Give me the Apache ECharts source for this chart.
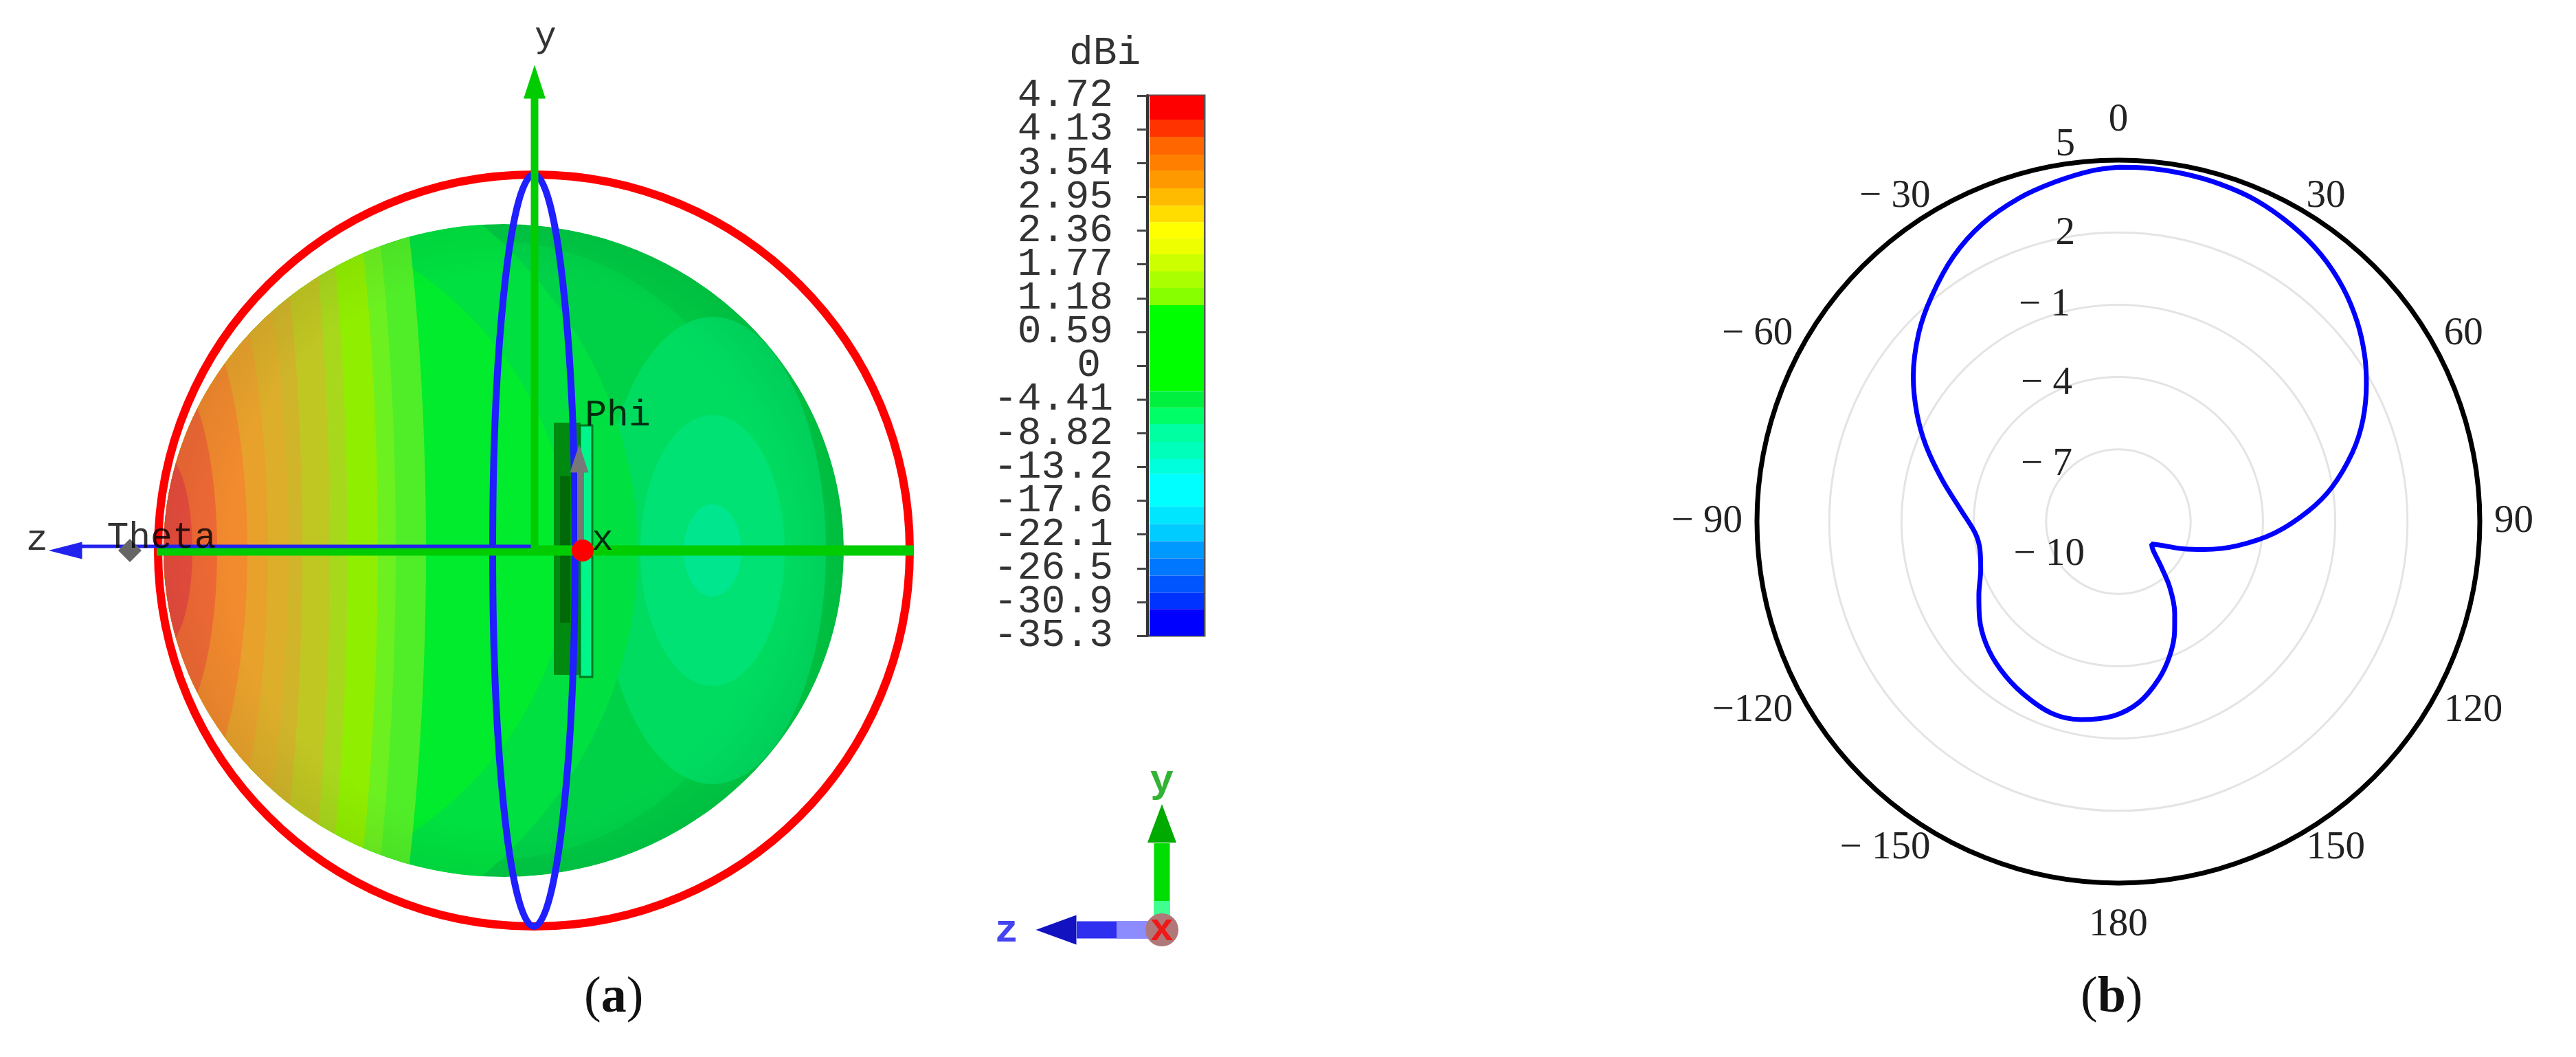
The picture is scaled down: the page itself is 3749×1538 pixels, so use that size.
<!DOCTYPE html>
<html>
<head>
<meta charset="utf-8">
<title>Radiation pattern</title>
<script src="https://cdn.jsdelivr.net/npm/echarts@6/dist/echarts.min.js"></script>
<style>
html, body { margin: 0; padding: 0; background: #fff; }
#main { width: 3749px; height: 1538px; }
</style>
</head>
<body>
<div id="main"></div>
<script>
// (b) polar cut
var thetaDeg = [0, 4.5, 10.5, 16.6, 23.1, 30.4, 37.2, 43.8, 50.1, 55.9, 60.9, 67.5, 73.6, 80.9, 86.8, 94.2, 101.5, 107.9, 112.9, 117.7, 123.9,
    129, 136.2, 142, 148.4, 152.9, 158.9, 165.5, 173.5, 181.4, 190.8, 199.2, 209.2, 218.5, 227.2, 235.6, 242.3, 250.8, 258.6, 265.4,
    274.4, 283.2, 291.5, 298.3, 305.3, 313.4, 320.3, 328.1, 335.5, 342.9, 349.5, 355.6, 360];
var gainDb = [4.71, 4.72, 4.69, 4.63, 4.51, 4.24, 3.91, 3.46, 2.92, 2.34, 1.78, 0.98, 0.12, -1.03, -2.1, -3.5, -4.97, -6.24, -7.11, -7.84, -8.34,
    -8.16, -7.46, -6.53, -5.54, -4.88, -4.06, -3.27, -2.45, -1.94, -1.64, -1.58, -1.84, -2.15, -2.52, -3.01, -3.46, -3.95, -4.14, -4.04,
    -3.43, -2.5, -1.42, -0.5, 0.43, 1.4, 2.14, 2.96, 3.59, 4.04, 4.34, 4.6, 4.71];
var angleLabels = ['0', '30', '60', '90', '120', '150', '180', '\u2212 150', '\u2212120', '\u2212 90', '\u2212 60', '\u2212 30'];

// (a) colour scale
var colorbarLabels = ['4.72', '4.13', '3.54', '2.95', '2.36', '1.77', '1.18', '0.59', '0', '-4.41', '-8.82', '-13.2', '-17.6', '-22.1', '-26.5', '-30.9', '-35.3'];
var colorbarEdges = [0, 0.71, 1.22, 1.75, 2.22, 2.75, 3.26, 3.75, 4.24, 4.7, 5.21, 5.7, 6.21, 8.76, 9.25, 9.73, 10.26, 10.77, 11.21, 12.18, 12.69, 13.2, 13.71, 14.22, 14.73, 15.21, 16];
var colorbarColors = ['#ff0000', '#ff3300', '#ff6600', '#ff8000', '#ff9900', '#ffbb00', '#ffdd00', '#ffff00', '#eeff00', '#ccff00', '#aaff00', '#88ff00',
    '#00ff00', '#00f040', '#00ff66', '#00ffa0', '#00ffbb', '#00ffdd', '#00ffff', '#00e6ff', '#00ccff', '#0099ff', '#0077ff', '#0055ff', '#0033ff', '#0000ff'];

// (a) gain contours on the sphere: [centre, half width, half height]
var sphereOutline = [-42, 0, 495, 475];
var rightContours = [[-42, 0, 495, 475], [-60, 0, 420, 450], [262, 0, 165, 340], [262, 0, 105, 197], [262, 0, 42, 67]];
var rightContourColors = ['#00ca44', '#00d248', '#00dc60', '#00e274', '#00e68e'];
var leftContours = [[-537, 0, 690, 640], [-537, 0, 590, 520], [-537, 0, 382, 1300], [-537, 0, 338, 1250], [-537, 0, 312, 1200], [-537, 0, 268, 1150], [-537, 0, 242, 1100], [-537, 0, 202, 900],
    [-537, 0, 182, 700], [-537, 0, 152, 560], [-537, 0, 122, 400], [-537, 0, 78, 268], [-537, 0, 42, 140]];
var leftContourColors = ['#00e040', '#00ec2c', '#50ee28', '#6cf020', '#90ee00', '#a8d81c', '#c0c622', '#d0b52a', '#dcae2a', '#e8a22c', '#f28a2e', '#f06a35', '#e84d3d'];

// (a) scene, units are px from the antenna origin
var antennaRects = [[31, 186, 70, -181], [40, 108, 55, -105], [69, 182, 87, -184]];
var farFieldRings = [[2, 0, 547, 547], [2, 0, 60, 547]];
var yAxisLine = [[3, 0], [3, 660]];
var zAxisGreen = [[-547, 0], [555, 0]];
var zAxisBlue = [[-660, 6], [3, 6]];
var phiArrow = [[70, 0], [70, 115]];
var triadY = [[916, -552], [916, -426]];
var triadYLight = [[916, -552], [916, -510]];
var triadZ = [[916, -552], [792, -552]];
var triadZLight = [[916, -552], [850, -552]];
var sceneLabels = [[19, 747, 'y'], [-721, 15, 'z'], [-540, 18, 'Theta'], [124, 196, 'Phi'], [102, 15, 'x']];
var triadLabels = [[916, -336, 'y'], [690, -554, 'z'], [916, -552, 'x']];
var triadLabelColors = ['#00a000', '#1515ee', '#ff0000'];

var serif = '"Liberation Serif"';
var mono = '"Liberation Mono"';

function ellipseItem(api) {
    var c = api.coord([api.value(0), api.value(1)]);
    var s = api.size([api.value(2), api.value(3)]);
    return { cx: c[0], cy: c[1], rx: s[0], ry: s[1] };
}

function sphereClip(api) {
    var c = api.coord([sphereOutline[0], sphereOutline[1]]);
    var s = api.size([sphereOutline[2], sphereOutline[3]]);
    return { type: 'ellipse', shape: { cx: c[0], cy: c[1], rx: s[0], ry: s[1] } };
}

function contourSeries(rows, colors) {
    return {
        type: 'custom', xAxisIndex: 0, yAxisIndex: 0, clip: false, silent: true, data: rows,
        renderItem: function (params, api) {
            return {
                type: 'ellipse', shape: ellipseItem(api), clipPath: sphereClip(api),
                style: { fill: colors[params.dataIndex], stroke: null }
            };
        }
    };
}

function lineSeries(data, color, width) {
    return {
        type: 'line', xAxisIndex: 0, yAxisIndex: 0, data: data, symbol: 'none', silent: true,
        lineStyle: { color: color, width: width, cap: 'butt' }
    };
}

function headSeries(point, size, rotate, color) {
    return {
        type: 'scatter', xAxisIndex: 0, yAxisIndex: 0, data: [point], symbol: 'triangle', silent: true, z: 5,
        symbolSize: size, symbolRotate: rotate, itemStyle: { color: color, opacity: 1 }
    };
}

function radiusRich(top, bottom, right) {
    return { fontFamily: serif, fontSize: 57, color: '#222', padding: [top, right, bottom, 0] };
}

function angleRich(top, bottom) {
    return { fontFamily: serif, fontSize: 57, color: '#222', padding: [top, 0, bottom, 0] };
}

var chart = echarts.init(document.getElementById('main'), null, { renderer: 'canvas' });

var option = {
    animation: false,
    backgroundColor: '#fff',
    title: [
        { text: 'dBi', left: 1556, top: 49, padding: 0, textStyle: { fontFamily: mono, fontWeight: 'normal', fontSize: 58, color: '#333' } },
        { text: '({b|a})', left: 850, top: 1416, padding: 0, textStyle: { fontFamily: serif, fontWeight: 'normal', fontSize: 74, color: '#111',
            rich: { b: { fontFamily: serif, fontWeight: 'bold', fontSize: 74, color: '#111' } } } },
        { text: '({b|b})', left: 3028, top: 1416, padding: 0, textStyle: { fontFamily: serif, fontWeight: 'normal', fontSize: 74, color: '#111',
            rich: { b: { fontFamily: serif, fontWeight: 'bold', fontSize: 74, color: '#111' } } } }
    ],
    grid: [
        { left: 0, top: 0, width: 1800, height: 1538, show: false },
        { left: 1670, top: 139, width: 83, height: 786, show: true, borderColor: '#555', borderWidth: 3, backgroundColor: '#fff' }
    ],
    xAxis: [
        { type: 'value', gridIndex: 0, min: -775, max: 1025, show: false },
        { type: 'value', gridIndex: 1, min: 0, max: 1, show: false }
    ],
    yAxis: [
        { type: 'value', gridIndex: 0, min: -737, max: 801, show: false },
        {
            // labelled scale
            type: 'category', gridIndex: 1, data: colorbarLabels, boundaryGap: false, inverse: true, position: 'left',
            axisLine: { show: true, lineStyle: { color: '#333', width: 4 } },
            axisTick: { show: true, interval: 0, length: 15, lineStyle: { color: '#444', width: 3 } },
            splitLine: { show: false },
            axisLabel: {
                show: true, interval: 0, margin: 50, fontFamily: mono, fontSize: 58, color: '#333',
                formatter: function (v) { return v === '0' ? '{zero|0}' : v; },
                rich: { zero: { fontFamily: mono, fontSize: 58, color: '#333', padding: [0, 18, 0, 0] } }
            }
        },
        // tick spacing for the colour cells
        { type: 'value', gridIndex: 1, min: 0, max: 16, inverse: true, show: false }
    ],
    polar: { center: [3083, 759], radius: 526 },
    angleAxis: {
        type: 'value', min: 0, max: 360, interval: 30, startAngle: 90, clockwise: true,
        axisLine: { show: true, lineStyle: { color: '#000', width: 7 } },
        axisTick: { show: false },
        splitLine: { show: false },
        axisLabel: {
            show: true, margin: 21, fontFamily: serif, fontSize: 57, color: '#222',
            formatter: function (v) {
                var text = angleLabels[v / 30];
                if (v === 0) return '{top|' + text + '}';
                if (v === 180) return '{bottom|' + text + '}';
                if (v === 90 || v === 270) return text;
                return (v < 90 || v > 270 ? '{upper|' : '{lower|') + text + '}';
            },
            rich: {
                top: angleRich(0, 8),
                bottom: angleRich(12, 0),
                upper: angleRich(0, -29),
                lower: angleRich(-27, 0)
            }
        }
    },
    radiusAxis: {
        type: 'value', min: -10, max: 5, interval: 3,
        axisLine: { show: false },
        axisTick: { show: false },
        splitLine: { show: true, lineStyle: { color: '#e4e4e4', width: 3 } },
        axisLabel: {
            show: true, margin: 49, fontFamily: serif, fontSize: 57, color: '#222',
            formatter: function (v) {
                return v === -10 ? '{a|\u2212 10}' : v === -7 ? '{b|\u2212 7}' : v === -4 ? '{c|\u2212 4}' : v === -1 ? '{d|\u2212 1}' : v === 2 ? '{e|2}' : '{f|5}';
            },
            rich: {
                a: radiusRich(96, 0, 0),
                b: radiusRich(44, 0, 18),
                c: radiusRich(18, 0, 18),
                d: radiusRich(2, 0, 21),
                e: radiusRich(4, 0, 14),
                f: radiusRich(0, 44, 14)
            }
        }
    },
    series: [
        contourSeries(rightContours, rightContourColors),
        contourSeries(leftContours, leftContourColors),
        {
            // darker rim of the sphere
            type: 'custom', xAxisIndex: 0, yAxisIndex: 0, clip: false, silent: true, data: [sphereOutline],
            renderItem: function (params, api) {
                return {
                    type: 'ellipse', shape: ellipseItem(api),
                    style: {
                        fill: new echarts.graphic.RadialGradient(0.5, 0.5, 0.54, [
                            { offset: 0, color: 'rgba(0,0,0,0)' },
                            { offset: 0.78, color: 'rgba(0,0,0,0)' },
                            { offset: 1, color: 'rgba(0,0,0,0.08)' }
                        ]), stroke: null
                    }
                };
            }
        },
        {
            // antenna body
            type: 'custom', xAxisIndex: 0, yAxisIndex: 0, clip: false, silent: true, data: antennaRects,
            renderItem: function (params, api) {
                var a = api.coord([api.value(0), api.value(1)]);
                var b = api.coord([api.value(2), api.value(3)]);
                var fills = ['#008a10', '#006a08', '#00f58a'];
                return {
                    type: 'rect', shape: { x: a[0], y: a[1], width: b[0] - a[0], height: b[1] - a[1] },
                    style: { fill: fills[params.dataIndex], stroke: params.dataIndex === 2 ? '#007a20' : null, lineWidth: 3 }
                };
            }
        },
        {
            type: 'custom', xAxisIndex: 0, yAxisIndex: 0, clip: false, silent: true, data: farFieldRings,
            renderItem: function (params, api) {
                return {
                    type: 'ellipse', shape: ellipseItem(api),
                    style: { fill: null, stroke: params.dataIndex === 0 ? '#ff0000' : '#1f1fff', lineWidth: params.dataIndex === 0 ? 12 : 10 }
                };
            }
        },
        lineSeries(phiArrow, '#777', 10),
        headSeries([68, 134], [27, 41], 0, '#777'),
        lineSeries(zAxisGreen, '#00cc00', 15),
        lineSeries(zAxisBlue, '#2222ee', 5),
        lineSeries(yAxisLine, '#00cc00', 11),
        headSeries([3, 682], [32, 49], 0, '#00cc00'),
        headSeries([-680, 0], [25, 49], 90, '#2222ee'),
        {
            type: 'scatter', xAxisIndex: 0, yAxisIndex: 0, silent: true, symbol: 'diamond', symbolSize: 34, z: 5,
            data: [[-586, 0]], itemStyle: { color: '#666', opacity: 1 }
        },
        {
            type: 'scatter', xAxisIndex: 0, yAxisIndex: 0, silent: true, symbol: 'circle', symbolSize: 32, z: 5,
            data: [[73, 0]], itemStyle: { color: '#ff0000', opacity: 1 }
        },
        {
            type: 'scatter', xAxisIndex: 0, yAxisIndex: 0, silent: true, symbolSize: 0, data: sceneLabels, z: 7,
            label: {
                show: true, position: 'inside', fontFamily: mono, fontSize: 53, color: '#000',
                formatter: function (p) { return p.value[2]; }
            }
        },
        // orientation triad
        lineSeries(triadY, '#00dd00', 23),
        lineSeries(triadYLight, '#40ff90', 23),
        headSeries([916, -397], [42, 56], 0, '#00aa00'),
        lineSeries(triadZ, '#2f2ff0', 25),
        lineSeries(triadZLight, '#8c8cff', 25),
        headSeries([762, -552], [43, 59], 90, '#1212c0'),
        {
            type: 'scatter', xAxisIndex: 0, yAxisIndex: 0, silent: true, symbol: 'circle', symbolSize: 48, z: 6,
            data: [[916, -552]], itemStyle: { color: '#b07878', opacity: 1 }
        },
        {
            type: 'scatter', xAxisIndex: 0, yAxisIndex: 0, silent: true, symbolSize: 0, z: 7,
            data: triadLabels.map(function (row, i) {
                return { value: row, label: { color: triadLabelColors[i] } };
            }),
            label: {
                show: true, position: 'inside', fontFamily: mono, fontWeight: 'bold', fontSize: 58,
                formatter: function (p) { return p.value[2]; }
            }
        },
        {
            // colour scale cells
            type: 'custom', xAxisIndex: 1, yAxisIndex: 2, clip: false, silent: true,
            data: colorbarColors.map(function (c, i) { return [0, colorbarEdges[i], 1, colorbarEdges[i + 1]]; }),
            renderItem: function (params, api) {
                var a = api.coord([api.value(0), api.value(1)]);
                var b = api.coord([api.value(2), api.value(3)]);
                return {
                    type: 'rect', shape: { x: a[0] + 3, y: a[1], width: b[0] - a[0] - 4, height: b[1] - a[1] },
                    style: { fill: colorbarColors[params.dataIndex], stroke: null }
                };
            }
        },
        {
            // measured gain
            type: 'line', coordinateSystem: 'polar', symbol: 'none', smooth: 0.33, silent: true,
            data: thetaDeg.map(function (t, i) { return [gainDb[i], t]; }),
            lineStyle: { color: '#0000ff', width: 7 }
        }
    ]
};

chart.setOption(option);
</script>
</body>
</html>
